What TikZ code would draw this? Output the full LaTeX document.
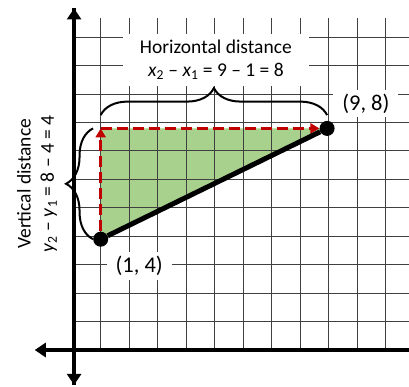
\documentclass[tikz,border=0pt]{standalone}
\usepackage{fontspec}
\setmainfont{Carlito}
\usetikzlibrary{arrows.meta,decorations.pathreplacing}
\definecolor{areagreen}{HTML}{A9D18E}
\definecolor{distred}{HTML}{C00000}

\begin{document}
\begin{tikzpicture}[
	x=28.3pt, y=27.7pt,
	every node/.style={ font=\fontsize{19.5}{23.3}\selectfont },
	gridline/.style={ black!75, line width=0.8pt },
	axis/.style={ line width=4.5pt },
	axistip/.style={ -{Triangle[width=14pt,length=11pt]} },
	dot/.style={ circle, fill, inner sep=0pt, minimum size=15pt },
	lbl/.style={ fill=white, inner xsep=9pt, inner ysep=4pt },
	ptlbl/.style={ lbl, font=\fontsize{22.5}{27}\selectfont },
	dist/.style={ distred, line width=2.5pt, dash pattern=on 11pt off 5pt, -{Triangle[width=10pt,length=9pt]} },
	seg/.style={ line width=5pt },
	bracket/.style={ decorate, decoration={brace,amplitude=27pt}, line width=2pt }
]
\useasboundingbox (-2.558,-1.30) rectangle (11.894,12.635);

\coordinate (A) at (1,4);
\coordinate (B) at (9,8);
\coordinate (C) at (1,8);
\fill[areagreen] (A) -- (C) -- (B) -- cycle;
\draw[gridline] (0.06,0) grid (11.9,12);

\coordinate (xl) at (-1.33,0);
\coordinate (xr) at (11.9,0);
\coordinate (yb) at (0.06,-1.26);
\coordinate (yt) at (0.06,12.33);
\draw[axis,axistip] (xr) -- (xl);
\draw[axis,axistip] (yb) -- (yt);
\draw[axis,axistip] (yt) -- (yb);

\node at (5.07,10.47) (HD) [lbl,align=center,inner xsep=17pt,inner ysep=6pt] {Horizontal distance\\\textit{x}\textsubscript{2} – \textit{x}\textsubscript{1} = 9 – 1 = 8};
\node at (-1.25,6) (VD) [rotate=90,align=center] {Vertical distance\\\textit{y}\textsubscript{2} – \textit{y}\textsubscript{1} = 8 – 4 = 4};
\node at (10.37,8.9) (LB) [ptlbl] {(9, 8)};
\node at (2.36,3.03) (LA) [ptlbl] {(1, 4)};

\coordinate (h1) at (1,8.48);
\coordinate (h2) at (9,8.48);
\coordinate (v1) at (0.73,4);
\coordinate (v2) at (0.73,8);
\draw[bracket] (h1) -- (h2);
\draw[bracket] (v1) -- (v2);

\node at (A) (P1) [dot] {};
\node at (B) (P2) [dot] {};
\draw[dist] (P1) -- (C);
\draw[dist] (C) -- (P2);
\draw[seg] (P1) -- (P2);

\end{tikzpicture}
\end{document}
